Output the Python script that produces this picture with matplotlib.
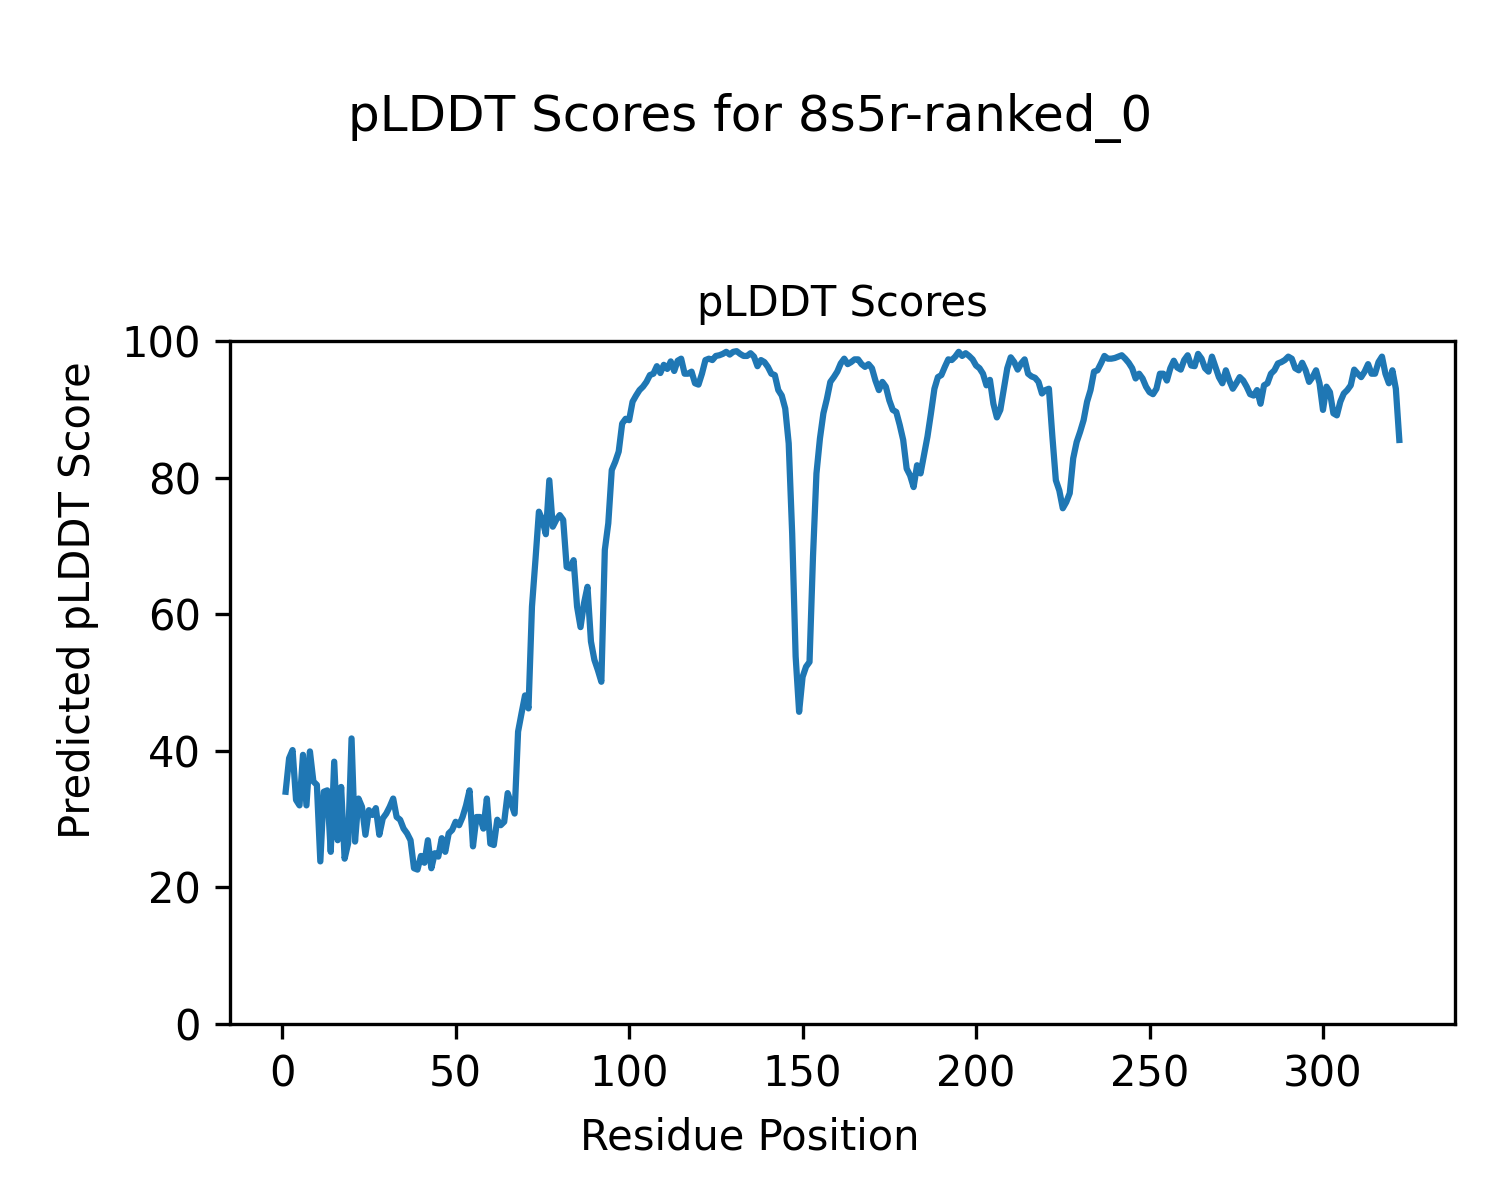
import matplotlib
matplotlib.use("Agg")
import matplotlib.pyplot as plt
import numpy as np

title = "pLDDT Scores for 8s5r-ranked_0"
ax_title = "pLDDT Scores"
x_label = "Residue Position"
y_label = "Predicted pLDDT Score"

plddt = [
    34.0, 38.9, 40.1, 32.8, 32.0, 39.4, 32.0, 39.9, 35.5, 35.0,
    23.8, 34.0, 34.2, 25.2, 38.4, 26.9, 34.7, 24.2, 26.4, 41.8,
    26.7, 33.0, 31.8, 27.7, 31.3, 30.6, 31.6, 27.7, 30.1, 30.8,
    31.8, 33.0, 30.3, 29.9, 28.6, 27.9, 26.9, 22.8, 22.6, 24.6,
    23.6, 26.9, 22.8, 25.0, 24.5, 27.2, 25.2, 27.9, 28.4, 29.6,
    29.1, 30.3, 32.0, 34.2, 26.0, 30.3, 30.3, 28.6, 33.0, 26.4,
    26.2, 29.9, 29.1, 29.6, 33.8, 32.3, 30.8, 42.8, 45.5, 48.1,
    46.2, 61.1, 67.9, 75.0, 73.8, 71.7, 79.6, 72.8, 73.8, 74.5,
    73.8, 66.9, 66.7, 67.9, 61.1, 58.1, 61.6, 64.0, 56.0, 53.3,
    51.8, 50.1, 69.4, 73.3, 81.1, 82.3, 83.8, 87.9, 88.6, 88.4,
    91.1, 92.0, 92.8, 93.3, 94.0, 95.0, 95.2, 96.3, 95.3, 96.5,
    95.9, 97.0, 95.6, 97.1, 97.4, 95.2, 95.2, 95.5, 93.8, 93.6,
    95.2, 97.2, 97.4, 97.2, 97.8, 97.9, 98.1, 98.4, 98.0, 98.4,
    98.5, 98.1, 97.8, 97.8, 98.2, 97.7, 96.3, 97.2, 96.9, 96.2,
    95.2, 95.0, 92.8, 92.0, 90.1, 85.0, 71.8, 53.8, 45.7, 50.8,
    52.3, 53.0, 68.4, 80.6, 85.7, 89.4, 91.5, 94.0, 94.7, 95.5,
    96.7, 97.4, 96.6, 96.9, 97.3, 97.3, 96.6, 96.2, 96.6, 96.0,
    94.2, 92.8, 94.0, 93.3, 91.3, 89.9, 89.6, 87.7, 85.5, 81.3,
    80.3, 78.6, 81.8, 80.6, 83.3, 86.0, 89.4, 93.0, 94.7, 95.0,
    96.2, 97.3, 97.2, 97.7, 98.4, 97.8, 98.2, 97.8, 97.3, 96.4,
    96.0, 95.2, 93.5, 94.3, 90.8, 88.8, 89.9, 93.0, 96.0, 97.6,
    96.9, 95.8, 96.7, 97.3, 95.2, 94.8, 94.6, 94.0, 92.3, 92.8,
    93.0, 86.0, 79.6, 78.1, 75.5, 76.4, 77.7, 82.8, 85.2, 86.7,
    88.4, 91.1, 92.8, 95.5, 95.7, 96.7, 97.8, 97.4, 97.4, 97.5,
    97.7, 97.9, 97.4, 96.8, 96.0, 94.5, 95.2, 94.5, 93.3, 92.5,
    92.2, 93.0, 95.2, 95.2, 94.2, 96.0, 97.1, 96.1, 95.8, 97.2,
    97.9, 96.4, 96.3, 98.1, 97.4, 96.0, 95.5, 97.7, 96.2, 94.7,
    93.8, 95.7, 94.2, 93.0, 93.8, 94.7, 94.2, 93.3, 92.2, 92.0,
    92.8, 90.8, 93.5, 93.8, 95.2, 95.7, 96.7, 96.9, 97.2, 97.7,
    97.4, 96.0, 95.7, 96.8, 95.7, 94.0, 94.7, 95.7, 93.8, 89.9,
    93.3, 92.5, 89.4, 89.1, 91.1, 92.3, 92.8, 93.5, 95.8, 95.2,
    94.7, 95.5, 96.6, 95.2, 95.2, 96.9, 97.7, 95.2, 93.8, 95.7,
    93.0, 85.5,
]
residues = list(range(1, len(plddt) + 1))

fig = plt.figure(figsize=(5, 4), dpi=300)
ax = fig.add_axes([0.1533, 0.1467, 0.8167, 0.5692])
ax.plot(residues, plddt, color="#1f77b4", linewidth=1.5)
ax.set_ylim(0, 100)
ax.set_title(ax_title, fontsize=10)
fig.suptitle(title, fontsize=12, y=0.902, va="center")
fig.supxlabel(x_label, fontsize=10, y=0.052, va="center")
fig.supylabel(y_label, fontsize=10, x=0.052, ha="center")

fig.savefig("out.png", dpi=300)
